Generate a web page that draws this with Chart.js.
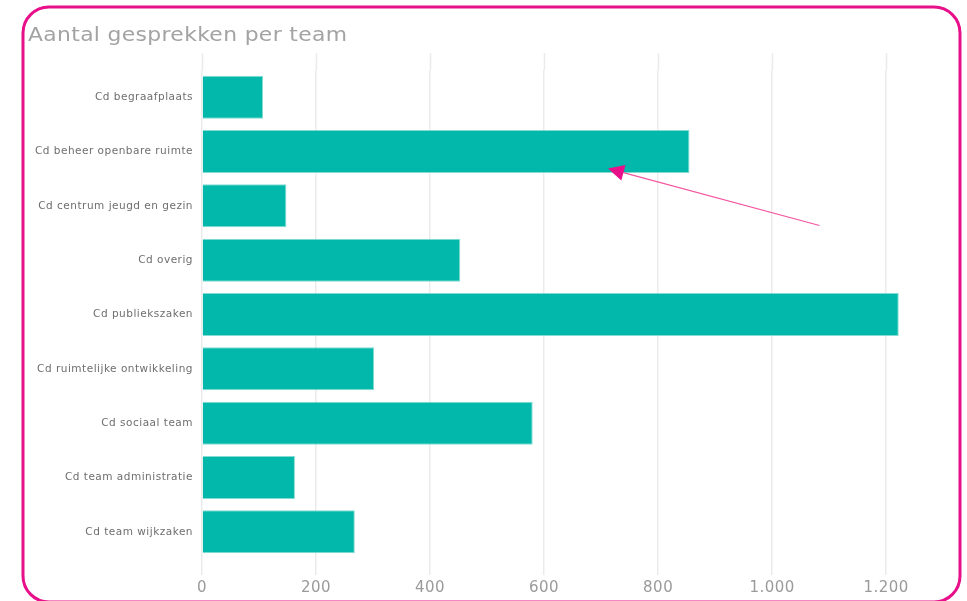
<!DOCTYPE html>
<html>
<head>
<meta charset="utf-8">
<script src="https://cdn.jsdelivr.net/npm/chart.js@4.4.1/dist/chart.umd.min.js"></script>
<style>
  html, body { margin: 0; padding: 0; background: #ffffff; }
  #wrap { position: relative; width: 967px; height: 601px; }
</style>
</head>
<body>
<div id="wrap"><canvas id="chart" width="967" height="601"></canvas></div>
<script>
// Teams and number of conversations per team
const teams = [
  'Cd begraafplaats',
  'Cd beheer openbare ruimte',
  'Cd centrum jeugd en gezin',
  'Cd overig',
  'Cd publiekszaken',
  'Cd ruimtelijke ontwikkeling',
  'Cd sociaal team',
  'Cd team administratie',
  'Cd team wijkzaken'
];
const gesprekken = [107, 855, 148, 453, 1222, 302, 580, 163, 268];
const xTicks = [0, 200, 400, 600, 800, 1000, 1200];

const titleText = 'Aantal gesprekken per team';
const frameColor = '#e8108a';
const barColor = '#01b8aa';
const gridColor = '#ebebeb';

// Dutch number format: 1200 -> 1.200
const fmt = v => String(v).replace(/\B(?=(\d{3})+(?!\d))/g, '.');

// Rounded frame, title and the pointer arrow
const decor = {
  id: 'decor',
  beforeDraw(chart) {
    const { ctx, chartArea, scales } = chart;
    // slightly open lettering for the axis text
    ctx.letterSpacing = '0.5px';
    // extend the vertical gridlines a little above the bars
    ctx.save();
    ctx.strokeStyle = gridColor;
    ctx.lineWidth = 1.5;
    xTicks.forEach(t => {
      const px = Math.round(scales.x.getPixelForValue(t)) + 0.5;
      ctx.beginPath();
      ctx.moveTo(px, chartArea.top - 17);
      ctx.lineTo(px, chartArea.top);
      ctx.stroke();
    });
    ctx.restore();
  },
  afterDraw(chart) {
    const { ctx, scales } = chart;
    ctx.letterSpacing = '0px';
    ctx.save();
    // frame
    const x0 = 23, y0 = 7, x1 = 960, y1 = 602, r = 26;
    ctx.strokeStyle = frameColor;
    ctx.lineWidth = 3;
    ctx.beginPath();
    ctx.moveTo(x0 + r, y0);
    ctx.lineTo(x1 - r, y0);
    ctx.arcTo(x1, y0, x1, y0 + r, r);
    ctx.lineTo(x1, y1 - r);
    ctx.arcTo(x1, y1, x1 - r, y1, r);
    ctx.lineTo(x0 + r, y1);
    ctx.arcTo(x0, y1, x0, y1 - r, r);
    ctx.lineTo(x0, y0 + r);
    ctx.arcTo(x0, y0, x0 + r, y0, r);
    ctx.closePath();
    ctx.stroke();

    // title, in a wide setting
    ctx.save();
    ctx.translate(28, 41);
    ctx.scale(1.15, 1);
    ctx.fillStyle = '#a3a3a3';
    ctx.font = '19px "DejaVu Sans"';
    ctx.letterSpacing = '0.3px';
    ctx.textBaseline = 'alphabetic';
    ctx.textAlign = 'left';
    ctx.fillText(titleText, 0, 0);
    ctx.restore();

    // arrow pointing at the 'beheer openbare ruimte' bar
    const tipX = scales.x.getPixelForValue(712);
    const tipY = scales.y.getPixelForValue(1) + 17;
    const tailX = scales.x.getPixelForValue(1083);
    const tailY = scales.y.getPixelForValue(1) + 74;
    const ang = Math.atan2(tipY - tailY, tipX - tailX);
    const headLen = 16, headHalf = 8;
    const bx = tipX - headLen * Math.cos(ang), by = tipY - headLen * Math.sin(ang);
    ctx.strokeStyle = '#f2559f';
    ctx.lineWidth = 1.2;
    ctx.beginPath();
    ctx.moveTo(tailX, tailY);
    ctx.lineTo(bx, by);
    ctx.stroke();
    ctx.fillStyle = '#e8108a';
    ctx.beginPath();
    ctx.moveTo(tipX, tipY);
    ctx.lineTo(bx + headHalf * Math.sin(ang), by - headHalf * Math.cos(ang));
    ctx.lineTo(bx - headHalf * Math.sin(ang), by + headHalf * Math.cos(ang));
    ctx.closePath();
    ctx.fill();
    ctx.restore();
  }
};

new Chart(document.getElementById('chart'), {
  type: 'bar',
  data: {
    labels: teams,
    datasets: [{
      data: gesprekken,
      backgroundColor: barColor,
      borderColor: 'rgba(120, 215, 205, 0.9)',
      borderWidth: 1,
      barPercentage: 0.79,
      categoryPercentage: 1.0
    }]
  },
  options: {
    indexAxis: 'y',
    responsive: false,
    animation: false,
    layout: { padding: { top: 70, right: 58, bottom: 0, left: 0 } },
    plugins: {
      legend: { display: false },
      tooltip: { enabled: false },
      title: { display: false }
    },
    scales: {
      x: {
        type: 'linear',
        min: 0,
        max: 1240,
        afterBuildTicks(scale) {
          scale.ticks = xTicks.map(v => ({ value: v }));
        },
        afterFit(scale) { scale.height = 42; },
        border: { display: false },
        grid: {
          color: gridColor,
          lineWidth: 1.5,
          drawTicks: true,
          tickLength: 16,
          tickColor: gridColor
        },
        ticks: {
          padding: 4,
          color: '#9a9a9a',
          font: { family: '"DejaVu Sans"', size: 15 },
          callback: v => fmt(v)
        }
      },
      y: {
        afterFit(scale) { scale.width = 202; },
        border: { display: false },
        grid: { display: false, drawTicks: false },
        ticks: {
          padding: 9,
          color: '#6e6e6e',
          font: { family: '"DejaVu Sans"', size: 10.5 }
        }
      }
    }
  },
  plugins: [decor]
});
</script>
</body>
</html>
